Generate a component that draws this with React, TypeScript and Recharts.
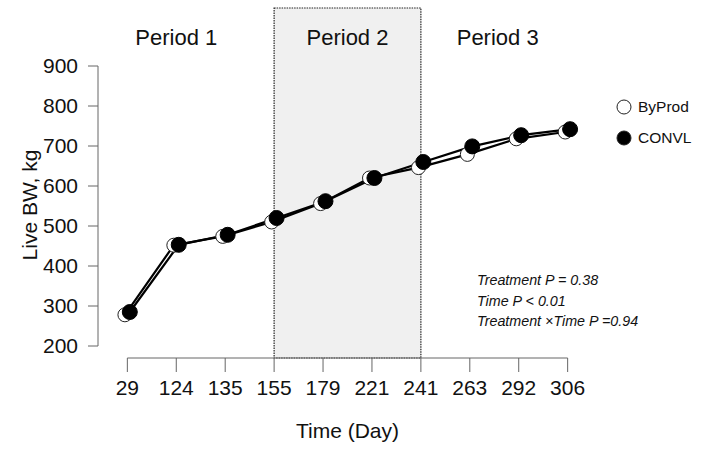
import { ComposedChart, Line, XAxis, YAxis, ReferenceArea, ReferenceLine, ReferenceDot } from "recharts";

const days = ["29", "124", "135", "155", "179", "221", "241", "263", "292", "306"];
const byProd = [278, 452, 474, 510, 556, 620, 646, 679, 718, 735];
const convl = [285, 453, 478, 520, 562, 620, 660, 699, 727, 742];
const yTicks = [200, 300, 400, 500, 600, 700, 800, 900];
const periods = ["Period 1", "Period 2", "Period 3"];
const stats = ["Treatment P = 0.38", "Time P < 0.01", "Treatment \u00d7Time P =0.94"];
const seriesNames = ["ByProd", "CONVL"];

// small horizontal dodge so the two series don't sit on top of each other
const dodge = 0.05;
const byProdData = days.map((d, i) => ({ x: i - dodge, bw: byProd[i], day: d }));
const convlData = days.map((d, i) => ({ x: i + dodge, bw: convl[i], day: d }));
const xTicks = days.map((_, i) => i);

const font = "'Liberation Sans', Arial, sans-serif";
const ink = "#111";
const axisGray = "#666";

function LegendBox() {
  const fills = ["#fff", "#000"];
  return (
    <div style={{ position: "absolute", left: 616, top: 92, fontFamily: font, fontSize: 15.5, color: ink }}>
      {seriesNames.map((name, i) => (
        <div key={name} style={{ display: "flex", alignItems: "center", height: 30.6 }}>
          <svg width={16} height={16} style={{ marginRight: 6 }}>
            <circle cx={8} cy={8} r={7} fill={fills[i]} stroke="#222" strokeWidth={1} />
          </svg>
          <span>{name}</span>
        </div>
      ))}
    </div>
  );
}

export default function App() {
  return (
    <div style={{ position: "absolute", left: 0, top: 0, width: 702, height: 449, background: "#fff", fontFamily: font }}>
      <ComposedChart width={702} height={449} margin={{ top: 8, right: 105, bottom: 0, left: 0 }}>
        <ReferenceArea x1={3} x2={6} fill="#f0f0f0" fillOpacity={1} stroke="#222" strokeDasharray="1.5 1" strokeWidth={1.2} ifOverflow="visible" />
        <XAxis
          type="number"
          dataKey="x"
          domain={[-0.6, 9.6]}
          ticks={xTicks}
          tickFormatter={(i: number) => days[i]}
          allowDataOverflow
          axisLine={false}
          tickLine={{ stroke: axisGray }}
          tickSize={14}
          tickMargin={8}
          height={91}
          tick={{ fontSize: 21, fill: ink, fontFamily: font }}
          label={{ value: "Time (Day)", position: "insideBottom", offset: 11, fontSize: 21, fill: ink, fontFamily: font }}
        />
        <YAxis
          type="number"
          domain={[170, 1045]}
          ticks={yTicks}
          allowDataOverflow
          width={98}
          axisLine={false}
          tickLine={{ stroke: axisGray }}
          tickSize={10}
          tickMargin={10}
          tick={{ fontSize: 21, fill: ink, fontFamily: font }}
          label={{
            content: (props: any) => {
              const vb = props.viewBox || { x: 0, y: 8, width: 98, height: 350 };
              const cx = vb.x + 29;
              const cy = vb.y + vb.height / 2 + 22;
              return (
                <text x={cx} y={cy} transform={`rotate(-90 ${cx} ${cy})`} textAnchor="middle" dominantBaseline="central" fontSize={21} fill={ink} fontFamily={font}>
                  Live BW, kg
                </text>
              );
            },
          }}
        />
        <ReferenceLine segment={[{ x: -0.6, y: 200 }, { x: -0.6, y: 900 }]} stroke={axisGray} ifOverflow="visible" />
        <ReferenceLine segment={[{ x: 0, y: 170 }, { x: 9, y: 170 }]} stroke={axisGray} ifOverflow="visible" />
        <ReferenceDot x={1.0} y={972} r={0} ifOverflow="visible" label={{ value: periods[0], position: "center", fontSize: 22, fill: ink, fontFamily: font }} />
        <ReferenceDot x={4.5} y={972} r={0} ifOverflow="visible" label={{ value: periods[1], position: "center", fontSize: 22, fill: ink, fontFamily: font }} />
        <ReferenceDot x={7.57} y={972} r={0} ifOverflow="visible" label={{ value: periods[2], position: "center", fontSize: 22, fill: ink, fontFamily: font }} />
        <Line
          data={byProdData}
          dataKey="bw"
          name={seriesNames[0]}
          type="linear"
          stroke="#000"
          strokeWidth={2.2}
          dot={{ r: 7, fill: "#fff", stroke: "#222", strokeWidth: 1 }}
          activeDot={false}
          isAnimationActive={false}
        />
        <Line
          data={convlData}
          dataKey="bw"
          name={seriesNames[1]}
          type="linear"
          stroke="#000"
          strokeWidth={2.2}
          dot={{ r: 7.5, fill: "#000", stroke: "#000", strokeWidth: 1 }}
          activeDot={false}
          isAnimationActive={false}
        />
      </ComposedChart>
      <LegendBox />
      <div style={{ position: "absolute", left: 477, top: 270, fontSize: 14.3, fontStyle: "italic", lineHeight: "20.5px", color: ink, whiteSpace: "nowrap" }}>
        {stats.map((s) => (
          <div key={s}>{s}</div>
        ))}
      </div>
    </div>
  );
}
